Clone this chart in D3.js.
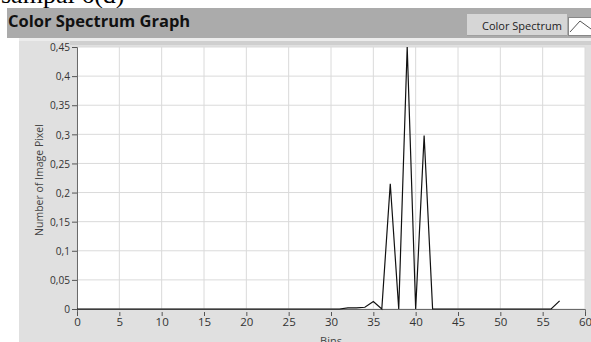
<!DOCTYPE html>
<html>
<head>
<meta charset="utf-8">
<script src="https://cdn.jsdelivr.net/npm/d3@7"></script>
<style>
  body { margin: 0; background: #fff; }
  svg { display: block; }
  .grid line { stroke: #dadada; }
  .tick-lbl { font-family: "Open Sans", sans-serif; font-size: 11.5px; fill: #333; }
</style>
</head>
<body>
<div id="chart"></div>
<script>
const width = 591
const height = 342

// bins 0..57, values
const bins = d3.range(0, 58)
const pixels = [
  0, 0, 0, 0, 0, 0, 0, 0, 0, 0,
  0, 0, 0, 0, 0, 0, 0, 0, 0, 0,
  0, 0, 0, 0, 0, 0, 0, 0, 0, 0,
  0, 0, 0.002, 0.002, 0.003, 0.013, 0, 0.215, 0, 0.45,
  0, 0.298, 0, 0, 0, 0, 0, 0, 0, 0,
  0, 0, 0, 0, 0, 0, 0, 0.014
]
const xTicks = d3.range(0, 61, 5)
const yTicks = [0, 0.05, 0.1, 0.15, 0.2, 0.25, 0.3, 0.35, 0.4, 0.45]

const plot = { left: 77, right: 585, top: 47, bottom: 309 }

const svg = d3.select("#chart").append("svg")
    .attr("width", width)
    .attr("height", height)

// caption remnant from the page above
svg.append("text")
    .attr("x", 1).attr("y", 3)
    .style("font-family", "'Liberation Serif', 'Times New Roman', serif")
    .style("font-size", "26px")
    .attr("fill", "#000")
    .text("sampai 6(d)")

// panels
svg.append("rect").attr("x", 7).attr("y", 8).attr("width", width - 7).attr("height", 30).attr("fill", "#ababab")
svg.append("rect").attr("x", 19).attr("y", 38).attr("width", width - 19).attr("height", height - 38).attr("fill", "#e0e0e0")
svg.append("rect").attr("x", 19).attr("y", 38).attr("width", width - 19).attr("height", 3).attr("fill", "#ececec")
svg.append("rect").attr("x", 70).attr("y", 41).attr("width", width - 70).attr("height", 4).attr("fill", "#cfcfcf")

svg.append("text")
    .attr("x", 8).attr("y", 27)
    .style("font-family", "'Open Sans', sans-serif")
    .style("font-size", "16.5px")
    .style("font-weight", "bold")
    .attr("fill", "#111")
    .text("Color Spectrum Graph")

// legend
const lg = svg.append("g")
lg.append("rect").attr("x", 467).attr("y", 14).attr("width", 100).attr("height", 22).attr("fill", "#d6d6d6")
lg.append("line").attr("x1", 467).attr("x2", 567).attr("y1", 35.5).attr("y2", 35.5).attr("stroke", "#a0a0a0")
lg.append("text")
    .attr("x", 482).attr("y", 29.5)
    .style("font-family", "'Open Sans', sans-serif")
    .style("font-size", "11px")
    .attr("fill", "#222")
    .text("Color Spectrum")
lg.append("rect").attr("x", 568.5).attr("y", 17.5).attr("width", 25).attr("height", 18)
    .attr("fill", "#fff").attr("stroke", "#888")
lg.append("path").attr("d", "M570,32L580,21L591,29").attr("fill", "none").attr("stroke", "#555")

const x = d3.scaleLinear().domain([0, 60]).range([plot.left, plot.right])
const y = d3.scaleLinear().domain([0, 0.45]).range([plot.bottom, plot.top])

svg.append("rect")
    .attr("x", plot.left).attr("y", plot.top)
    .attr("width", plot.right - plot.left).attr("height", plot.bottom - plot.top)
    .attr("fill", "#fff")

const grid = svg.append("g").attr("class", "grid")
grid.selectAll("line.gx").data(xTicks).join("line")
    .attr("x1", d => x(d)).attr("x2", d => x(d))
    .attr("y1", plot.top).attr("y2", plot.bottom)
grid.selectAll("line.gy").data(yTicks).join("line")
    .attr("y1", d => y(d)).attr("y2", d => y(d))
    .attr("x1", plot.left).attr("x2", plot.right)

const comma = d3.formatLocale({ decimal: ",", thousands: ".", grouping: [3], currency: ["", ""] }).format("~g")

const xAxis = svg.append("g")
    .attr("transform", `translate(0,${plot.bottom})`)
    .call(d3.axisBottom(x).tickValues(xTicks).tickSize(5).tickPadding(3).tickFormat(d3.format("d")))
const yAxis = svg.append("g")
    .attr("transform", `translate(${plot.left},0)`)
    .call(d3.axisLeft(y).tickValues(yTicks).tickSize(5).tickPadding(2).tickFormat(comma))

for (const ax of [xAxis, yAxis]) {
  ax.select(".domain").attr("stroke", "#6a6a6a")
  ax.selectAll(".tick line").attr("stroke", "#555")
  ax.selectAll(".tick text").attr("class", "tick-lbl")
}
xAxis.selectAll(".tick line").attr("y1", 3).attr("y2", 7)
xAxis.selectAll(".tick text").attr("y", 9).attr("dy", "0.71em")
yAxis.selectAll(".tick text").attr("transform", "scale(0.88,1)")
yAxis.selectAll(".tick text").attr("x", -7 / 0.88)

svg.append("text")
    .attr("transform", `translate(43,180) rotate(-90)`)
    .attr("text-anchor", "middle")
    .style("font-family", "'Open Sans', sans-serif")
    .style("font-size", "10.5px")
    .attr("fill", "#444")
    .text("Number of Image Pixel")

svg.append("text")
    .attr("x", 331).attr("y", 345)
    .attr("text-anchor", "middle")
    .style("font-family", "'Open Sans', sans-serif")
    .style("font-size", "11px")
    .attr("fill", "#444")
    .text("Bins")

const line = d3.line().x((d, i) => x(bins[i])).y(d => y(d))
svg.append("path")
    .datum(pixels)
    .attr("fill", "none")
    .attr("stroke", "#111")
    .attr("stroke-width", 1.2)
    .attr("d", line)
</script>
</body>
</html>
